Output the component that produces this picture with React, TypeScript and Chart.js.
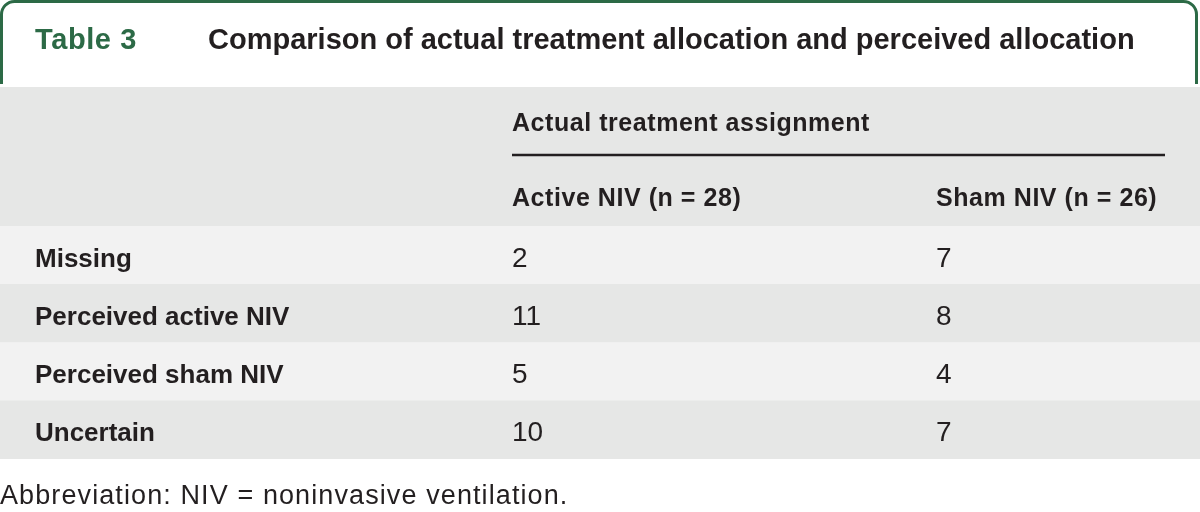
import React, { useEffect, useRef } from "react";
import { Chart, registerables } from "chart.js";

Chart.register(...registerables);

const tableNumber = "Table 3";
const tableTitle = "Comparison of actual treatment allocation and perceived allocation";
const spanHeader = "Actual treatment assignment";
const columnHeaders = ["Active NIV (n = 28)", "Sham NIV (n = 26)"];
const rowLabels = ["Missing", "Perceived active NIV", "Perceived sham NIV", "Uncertain"];
const activeValues = [2, 11, 5, 10];
const shamValues = [7, 8, 4, 7];
const footnote = "Abbreviation: NIV = noninvasive ventilation.";

const FONT = "'Liberation Sans', Arial, sans-serif";
const GREEN = "#2c6a46";
const TEXT = "#231f20";
const LIGHT = "#f2f2f2";
const GRAY = "#e6e7e6";

function setSpacing(ctx: any, px: number) {
  if ("letterSpacing" in ctx) ctx.letterSpacing = `${px}px`;
}

const tablePlugin = {
  id: "tableText",
  beforeDatasetsDraw(chart: any) {
    const ctx = chart.ctx;
    const area = chart.chartArea;
    const W = chart.width;
    ctx.save();
    ctx.fillStyle = GRAY;
    ctx.fillRect(0, 87, W, area.top - 87);
    ctx.strokeStyle = GREEN;
    ctx.lineWidth = 3;
    ctx.beginPath();
    const r = 13;
    ctx.moveTo(1.5, 84);
    ctx.lineTo(1.5, 1.5 + r);
    ctx.arcTo(1.5, 1.5, 1.5 + r, 1.5, r);
    ctx.lineTo(W - 3.5 - r, 1.5);
    ctx.arcTo(W - 3.5, 1.5, W - 3.5, 1.5 + r, r);
    ctx.lineTo(W - 3.5, 84);
    ctx.stroke();
    ctx.restore();
  },
  afterDatasetsDraw(chart: any) {
    const ctx = chart.ctx;
    const y = chart.scales.y;
    const colX = [35, 512, 936];
    ctx.save();
    ctx.textBaseline = "alphabetic";
    ctx.textAlign = "left";
    // title
    ctx.font = `bold 29px ${FONT}`;
    ctx.fillStyle = GREEN;
    setSpacing(ctx, 0.6);
    ctx.fillText(tableNumber, colX[0], 49);
    ctx.fillStyle = TEXT;
    setSpacing(ctx, 0);
    ctx.fillText(tableTitle, 208, 49);
    // span header
    ctx.font = `bold 25px ${FONT}`;
    setSpacing(ctx, 0.55);
    ctx.fillText(spanHeader, colX[1], 131);
    ctx.strokeStyle = TEXT;
    ctx.lineWidth = 2.5;
    ctx.beginPath();
    ctx.moveTo(colX[1], 155);
    ctx.lineTo(1165, 155);
    ctx.stroke();
    ctx.fillText(columnHeaders[0], colX[1], 206);
    ctx.fillText(columnHeaders[1], colX[2], 206);
    setSpacing(ctx, 0);
    // rows
    rowLabels.forEach((label, i) => {
      const py = y.getPixelForValue(i) + 11.5;
      ctx.font = `bold 26px ${FONT}`;
      ctx.fillText(label, colX[0], py);
      ctx.font = `28px ${FONT}`;
      ctx.fillText(String(activeValues[i]), colX[1], py);
      ctx.fillText(String(shamValues[i]), colX[2], py);
    });
    // footnote
    ctx.font = `27px ${FONT}`;
    setSpacing(ctx, 1.1);
    ctx.fillText(footnote, 0, 504);
    setSpacing(ctx, 0);
    ctx.restore();
  },
};

export default function App() {
  const ref = useRef<HTMLCanvasElement | null>(null);
  useEffect(() => {
    document.body.style.margin = "0";
    const canvas = ref.current!;
    const chart = new Chart(canvas, {
      type: "bar",
      data: {
        labels: rowLabels,
        datasets: [
          {
            data: rowLabels.map(() => [0, 1]) as any,
            backgroundColor: rowLabels.map((_, i) => (i % 2 === 0 ? LIGHT : GRAY)),
            borderWidth: 0,
            barPercentage: 1,
            categoryPercentage: 1,
          },
        ],
      },
      options: {
        indexAxis: "y",
        responsive: false,
        animation: false,
        layout: { padding: { top: 226, bottom: 53, left: 0, right: 0 } },
        plugins: { legend: { display: false }, tooltip: { enabled: false }, title: { display: false } },
        scales: {
          x: { type: "linear", min: 0, max: 1, display: false },
          y: { type: "category", display: false, offset: true },
        },
      },
      plugins: [tablePlugin],
    });
    return () => chart.destroy();
  }, []);
  return (
    <div style={{ width: 1200, height: 512, background: "#fff" }}>
      <canvas ref={ref} width={1200} height={512} style={{ display: "block" }} />
    </div>
  );
}
